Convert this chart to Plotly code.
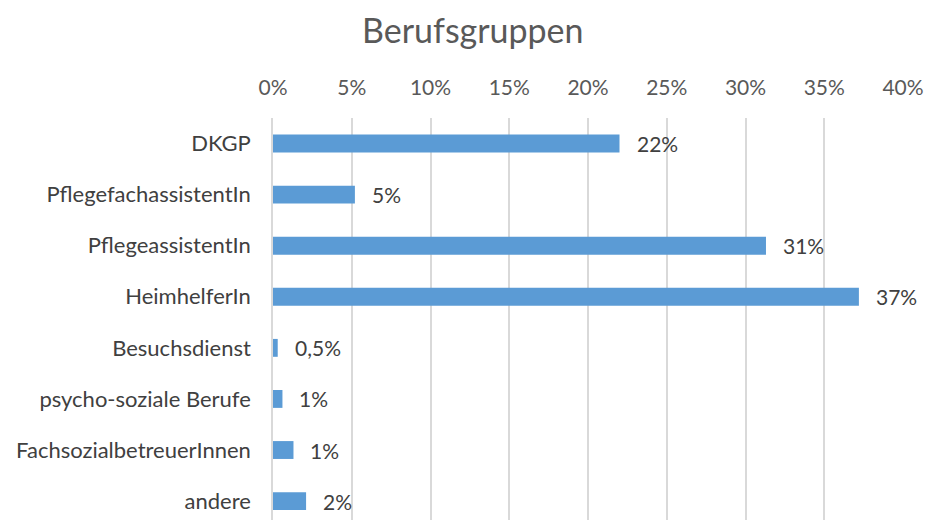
import plotly.graph_objects as go

# Berufsgruppen - share of staff per job group
categories = ['DKGP', 'PflegefachassistentIn', 'PflegeassistentIn', 'HeimhelferIn',
              'Besuchsdienst', 'psycho-soziale Berufe', 'FachsozialbetreuerInnen', 'andere']
values = [22.0, 5.2, 31.3, 37.2, 0.3, 0.6, 1.3, 2.1]
labels = ['22%', '5%', '31%', '37%', '0,5%', '1%', '1%', '2%']
tick_vals = [0, 5, 10, 15, 20, 25, 30, 35, 40]
tick_text = [f'{t}%' for t in tick_vals]

BAR = '#5B9BD5'
GRID = '#D9D9D9'
FONT = 'Lato, Open Sans, sans-serif'

fig = go.Figure()

fig.add_trace(
    go.Bar(
        x=values,
        y=categories,
        orientation='h',
        width=0.35,
        marker=dict(color=BAR, line=dict(width=0)),
        hoverinfo='skip'
    )
)

# data labels to the right of each bar
for cat, val, lab in zip(categories, values, labels):
    fig.add_annotation(
        x=val,
        y=cat,
        text=lab,
        showarrow=False,
        xanchor='left',
        xshift=15,
        font=dict(size=21, color='#404040', family=FONT)
    )

fig.update_layout(
    width=927,
    height=520,
    margin=dict(l=273, r=24, t=118, b=0),
    paper_bgcolor='white',
    plot_bgcolor='white',
    showlegend=False,
    title=dict(
        text='Berufsgruppen',
        x=0.51,
        xref='container',
        xanchor='center',
        y=0.94,
        yanchor='middle',
        font=dict(size=34, color='#595959', family=FONT)
    ),
    xaxis=dict(
        side='top',
        range=[0, 40],
        tickvals=tick_vals,
        ticktext=tick_text,
        showgrid=True,
        gridcolor=GRID,
        gridwidth=1.5,
        zeroline=False,
        showline=False,
        ticks='',
        automargin=False,
        ticklabelstandoff=18,
        tickfont=dict(size=21, color='#595959', family=FONT)
    ),
    yaxis=dict(
        categoryorder='array',
        categoryarray=categories,
        range=[7.37, -0.5],
        showgrid=False,
        zeroline=False,
        showline=True,
        linecolor=GRID,
        linewidth=1.5,
        ticks='',
        automargin=False,
        ticklabelstandoff=16,
        tickfont=dict(size=22, color='#404040', family=FONT)
    )
)

# drop the default page margin so the figure sits at the window's corner
fig.write_html('out.html', config={'displayModeBar': False},
               post_script="document.body.style.margin='0';")
